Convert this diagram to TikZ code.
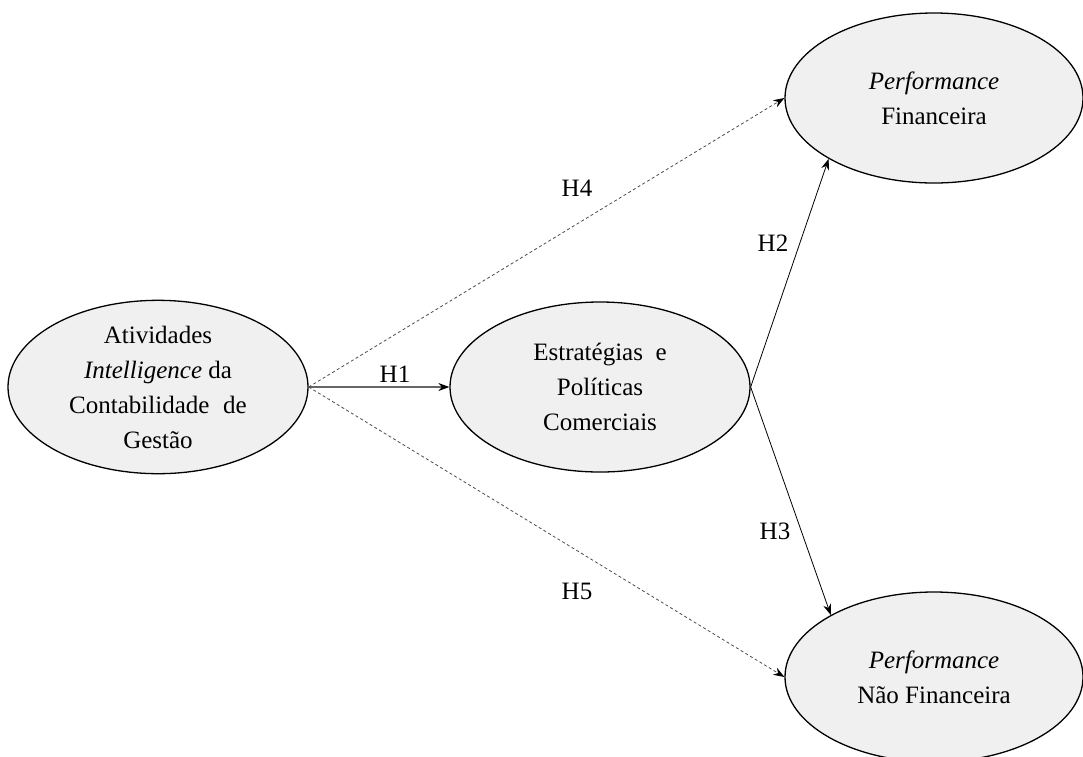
\documentclass[tikz,border=0pt]{standalone}
\usepackage{fontspec}
\setmainfont{Liberation Serif}
\usetikzlibrary{shapes.geometric,arrows.meta}
\begin{document}
\begin{tikzpicture}[x=1pt,y=-1pt,
  construct/.style={ellipse,draw=black,line width=1.3pt,fill=gray!12,
    minimum width=300pt,minimum height=170pt,inner sep=0pt,align=center,
    font=\fontsize{25}{35}\selectfont},
  hyp/.style={font=\fontsize{25}{30}\selectfont,inner sep=0pt},
  link/.style={line width=0.8pt,-{Stealth[length=11pt,width=8pt]}},
  thick link/.style={draw=black!60,line width=1.3pt,-{Stealth[length=11pt,width=8pt,fill=black,color=black]}},
  dash link/.style={draw=black!70,line width=0.8pt,dash pattern=on 3pt off 2.5pt,-{Stealth[length=11pt,width=8pt,fill=black,color=black]}}]
\useasboundingbox (0,0) rectangle (1083,756);
\begin{scope}
\clip (0,0) rectangle (1083,756);
\node[construct] (aic) at (158,387) {Atividades\\\textit{Intelligence} da\\Contabilidade\hspace{0.3em} de\\Gestão};
\node[construct] (epc) at (600,387) {Estratégias\hspace{0.25em} e\\Políticas\\Comerciais};
\node[construct,minimum width=298pt] (pf) at (934,98) {\textit{Performance}\\Financeira};
\node[construct,minimum width=298pt] (pnf) at (934,677) {\textit{Performance}\\Não Financeira};
\end{scope}
% hypothesised paths
\draw[thick link] (aic.east) -- (epc.west);
\draw[dash link] (aic.east) -- (pf.west);
\draw[dash link] (aic.east) -- (pnf.west);
\draw[link] (epc.east) -- (pf.210);
\draw[link] (epc.east) -- (pnf.149);
% path labels
\node[hyp] (h1) at (395,374) {H1};
\node[hyp] (h4) at (577,188) {H4};
\node[hyp] (h2) at (773,243) {H2};
\node[hyp] (h3) at (775,531) {H3};
\node[hyp] (h5) at (577,591) {H5};
\end{tikzpicture}
\end{document}
